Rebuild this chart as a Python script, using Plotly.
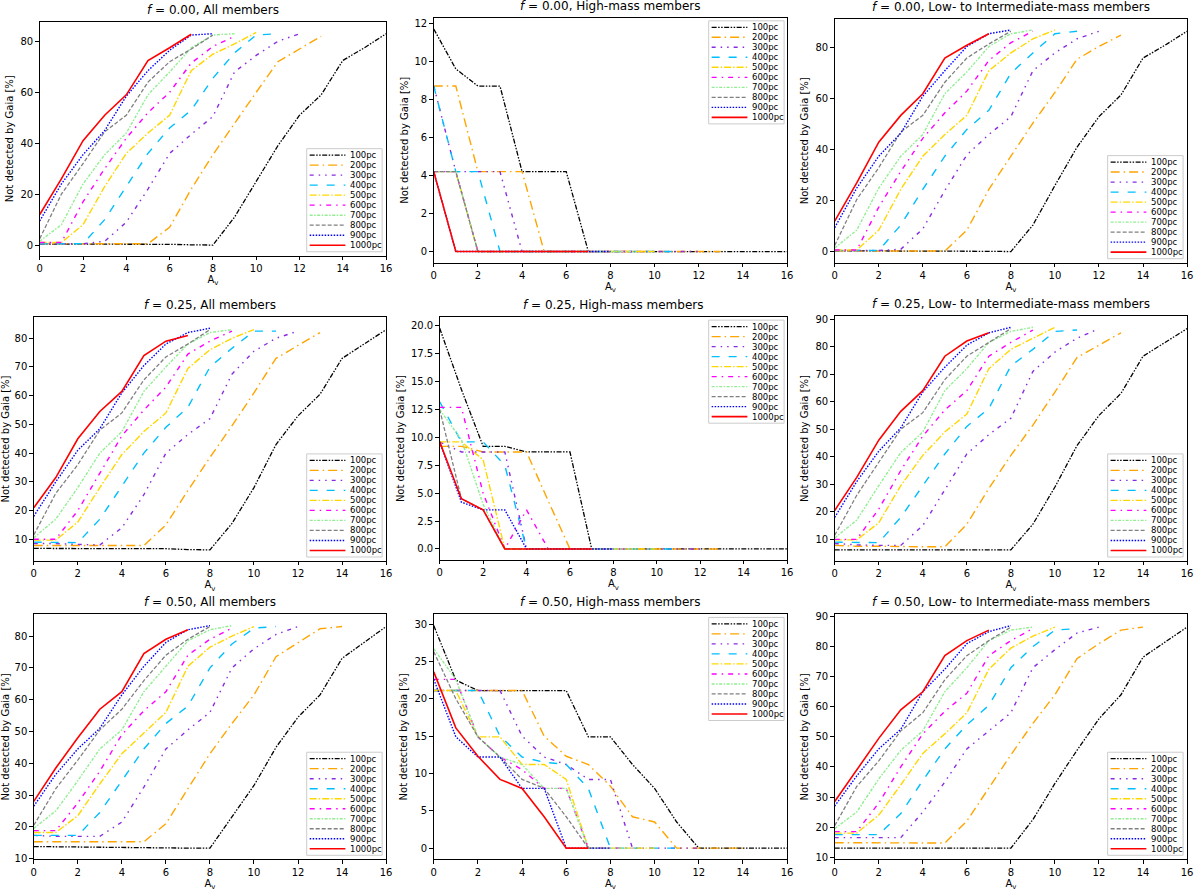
import plotly.graph_objects as go

W, H = 1200, 892

distances = ["100pc", "200pc", "300pc", "400pc", "500pc",
             "600pc", "700pc", "800pc", "900pc", "1000pc"]
colors = ["#000000", "#FFA500", "#8A2BE2", "#00BFFF", "#FFD700",
          "#FF00FF", "#90EE90", "#808080", "#0000FF", "#FF0000"]
dashes = ["5px,1.5px,1.5px,1.5px,1.5px,1.5px", "9px,4px,1.5px,4px",
          "4px,5px,1.5px,5px,1.5px,5px", "8px,9px", "7px,2px,1.5px,2px",
          "5px,5px,1.5px,5px", "3px,1.5px,1.5px,1.5px", "4px,2px",
          "1.5px,1.5px", "solid"]
widths = [1.3, 1.4, 1.4, 1.4, 1.4, 1.4, 1.4, 1.3, 1.4, 1.6]

fractions = ["0.00", "0.25", "0.50"]
samples = ["All members", "High-mass members", "Low- to Intermediate-mass members"]

# one list per distance, values at A_v = 0, 1, 2, ...
all_000 = [
    [0.4, 0.4, 0.4, 0.4, 0.4, 0.4, 0.3, 0.1, 0, 11, 25, 39, 51, 59, 72.5, 77.5, 83],
    [0.5, 0.5, 0.5, 0.5, 0.5, 0.5, 7, 22, 35.5, 48, 60, 72, 77, 82],
    [0.5, 0.5, 0.5, 1.5, 9, 22, 36, 43.5, 50.5, 68, 74.5, 80, 83],
    [0.5, 0.5, 0.5, 10, 23, 36, 46, 53, 65.5, 75.5, 82.5, 83],
    [1, 1, 8, 23, 36, 44, 51, 68.5, 75, 79, 83.5],
    [1, 1, 17, 30, 42, 52, 60, 71.5, 78, 82],
    [1.5, 8, 24, 35.5, 44, 59, 68, 77.5, 82.5, 83],
    [2.5, 20, 32, 44.5, 51, 64, 72, 77, 82.5],
    [9.5, 24, 35.5, 45, 58.5, 68.5, 76.5, 82.5, 83],
    [12, 26, 41, 51, 59, 72.5, 77.5, 82.8],
]
high_000 = [
    [11.7, 9.6, 8.7, 8.7, 4.2, 4.2, 4.2, 0, 0, 0, 0, 0, 0, 0, 0, 0, 0],
    [8.7, 8.7, 4.2, 4.2, 4.2, 0, 0, 0, 0, 0, 0, 0, 0, 0],
    [8.7, 4.2, 4.2, 4.2, 0, 0, 0, 0, 0, 0, 0, 0, 0],
    [8.7, 4.2, 4.2, 0, 0, 0, 0, 0, 0, 0, 0, 0],
    [4.2, 4.2, 0, 0, 0, 0, 0, 0, 0, 0, 0],
    [4.2, 4.2, 0, 0, 0, 0, 0, 0, 0, 0],
    [4.2, 4.2, 0, 0, 0, 0, 0, 0, 0, 0],
    [4.2, 4.2, 0, 0, 0, 0, 0, 0, 0],
    [4.2, 0, 0, 0, 0, 0, 0, 0, 0],
    [4.2, 0, 0, 0, 0, 0, 0, 0],
]
low_000 = [
    [0.4, 0.4, 0.4, 0.4, 0.4, 0.4, 0.3, 0.2, 0.1, 10.5, 26, 41, 53, 61.5, 76, 81, 86.5],
    [0.3, 0.3, 0.3, 0.3, 0.3, 0.3, 8.5, 24.5, 37.5, 50.5, 62.5, 75.5, 80.5, 85],
    [0.5, 0.5, 0.5, 1, 9, 24, 38, 46, 53, 71, 78, 83.5, 86.5],
    [0.5, 0.5, 0.5, 10.5, 24.5, 37.5, 48, 55.5, 70, 78, 85.5, 86.5],
    [0.7, 0.7, 8.5, 24.5, 37.5, 46, 53.5, 71, 78, 83.5, 87],
    [0.7, 0.7, 17.5, 31.5, 44.5, 54.5, 63, 75, 82, 86.5],
    [1.5, 8.5, 25, 37.5, 46, 62, 70.5, 80.5, 85.5, 87],
    [2.5, 20.5, 33, 47, 53.5, 66.5, 76, 81.5, 86.5],
    [9.5, 25, 37.5, 46.5, 61, 71, 80.5, 85.5, 87],
    [12, 27, 43, 53.5, 62, 76, 81, 85.5],
]
all_025 = [
    [6.8, 6.8, 6.8, 6.8, 6.8, 6.7, 6.7, 6.4, 6.3, 15.5, 28, 43, 53, 60.5, 73, 78, 83],
    [7.8, 7.8, 7.8, 7.8, 7.8, 7.8, 15, 27, 38.5, 49.5, 61, 73, 77.5, 82],
    [8.5, 8.5, 8.2, 8, 14, 25.5, 40, 46.5, 52, 67.5, 75.5, 80, 82.5],
    [9, 9, 8.8, 17, 28.5, 40, 49, 56, 70, 76.5, 82.5, 82.5],
    [9.7, 9.7, 16, 28, 39.5, 47.5, 54, 69.5, 76, 80, 83],
    [10, 10, 20, 33, 46, 55, 63, 74.5, 79, 82.5],
    [10.5, 17, 28, 40, 47.5, 61.5, 70, 78, 82, 83],
    [11.5, 26, 36, 48, 54, 65.5, 73.5, 78, 83],
    [18, 30, 41, 48.5, 61, 70.5, 78, 82, 83.5],
    [21, 31.5, 45, 54.5, 61.5, 74, 79, 81],
]
high_025 = [
    [19.8, 14.3, 9.2, 9.2, 8.7, 8.7, 8.7, 0, 0, 0, 0, 0, 0, 0, 0, 0, 0],
    [9.2, 9.2, 8.7, 8.7, 8.7, 4.3, 0, 0, 0, 0, 0, 0, 0, 0],
    [9.6, 8.7, 8.7, 8.7, 0, 0, 0, 0, 0, 0, 0, 0, 0],
    [13.2, 9.6, 9.6, 7.5, 0, 0, 0, 0, 0, 0, 0, 0],
    [9.6, 9.6, 8.0, 0, 0, 0, 0, 0, 0, 0, 0],
    [12.7, 12.7, 5.0, 0, 3.5, 0, 0, 0, 0, 0],
    [12.5, 9.8, 4.0, 0, 0, 0, 0, 0, 0, 0],
    [12.5, 4.5, 3.5, 0, 0, 0, 0, 0, 0],
    [9.6, 4.2, 3.5, 3.5, 0, 0, 0, 0, 0],
    [9.6, 4.5, 3.5, 0, 0, 0, 0, 0],
]
low_025 = [
    [6.2, 6.2, 6.2, 6.2, 6.2, 6.2, 6.2, 6.2, 6.2, 15.5, 29, 44, 55, 63, 76.5, 81.5, 86.5],
    [7.8, 7.5, 7.5, 7.3, 7.3, 7.3, 15.5, 28.5, 40.5, 51.5, 63.5, 76, 80.5, 85],
    [8.5, 8, 7.8, 7.8, 15, 28, 41, 48, 54, 71, 78, 83, 86.5],
    [9, 8.8, 8.8, 18, 29.5, 41, 51, 57.5, 73, 79, 85.5, 86],
    [9.8, 9.8, 16, 29.5, 40.5, 49, 55.5, 72, 79, 83, 87],
    [10, 10, 21, 35, 47.5, 57, 64, 76.5, 81.5, 86],
    [10.5, 17, 29.5, 41.5, 49, 64, 72, 81.5, 85.5, 87],
    [11.5, 26, 38, 50, 56, 68, 76.5, 81.5, 86.5],
    [18, 31, 42, 50.5, 63.5, 72.5, 80.5, 85, 87],
    [20.5, 32.5, 46, 56.5, 64, 76.5, 82, 85],
]
all_050 = [
    [13.8, 13.7, 13.6, 13.5, 13.5, 13.5, 13.4, 13.3, 13.3, 23, 33, 45, 54.5, 61.5, 73, 78, 83],
    [15.3, 15.3, 15.3, 15.3, 15.3, 15.3, 21, 32, 43, 52.5, 61.5, 73.5, 78, 82.3, 83],
    [17.3, 17, 17, 17, 21.5, 32.5, 44.5, 50.5, 56, 70, 76, 80.5, 83],
    [17.3, 17.3, 17.3, 24.5, 34.5, 44.5, 52.5, 58, 70, 77.5, 82.5, 83],
    [18.2, 18.2, 23.5, 33.5, 43, 49.5, 56, 70.5, 76.5, 80, 83],
    [18.8, 18.8, 27.5, 37.5, 49, 56.5, 62.5, 74, 79, 82.5],
    [19.5, 25, 34.5, 44.5, 50.5, 62.5, 70.5, 78.5, 82, 83.3],
    [20.5, 32, 41, 50.5, 57, 66, 74, 79, 83],
    [26.5, 36.5, 44.5, 51, 61.5, 70.5, 78, 82, 83.3],
    [28, 38.5, 48, 57, 62.5, 74.5, 79, 82],
]
high_050 = [
    [29.8, 22.5, 21.1, 21.1, 21.1, 21.1, 21.1, 14.9, 14.9, 11.2, 8.0, 3.5, 0, 0, 0, 0, 0],
    [21.1, 21.1, 21.1, 21.1, 21.1, 15.0, 12.3, 11.2, 8.3, 4.2, 3.5, 0, 0, 0, 0],
    [21.1, 21.1, 21.1, 21.1, 15.0, 12.2, 11.2, 9.2, 9.2, 0, 0, 0, 0],
    [21.1, 21.1, 21.1, 15.0, 12.2, 11.5, 11.2, 8.0, 0, 0, 0, 0],
    [21.1, 21.1, 14.9, 14.9, 11.2, 11.2, 9.2, 0, 0, 0, 0],
    [22.6, 22.6, 14.9, 12.2, 10.5, 8.0, 8.0, 0, 0, 0],
    [26.7, 22.6, 14.9, 12.2, 11.2, 8.0, 8.0, 0, 0, 0],
    [26.3, 20.0, 14.9, 12.2, 9.2, 8.0, 4.2, 0, 0],
    [22.6, 14.9, 12.2, 12.2, 8.0, 8.0, 0, 0, 0],
    [23.6, 16.1, 12.3, 9.2, 8.0, 4.2, 0, 0],
]
low_050 = [
    [13, 13.1, 13, 13, 13, 13, 13, 13, 13, 22.5, 34.5, 45.5, 56, 64, 76.5, 81.5, 86.5],
    [14.8, 14.8, 14.8, 14.8, 14.7, 14.7, 22, 33, 44, 54.5, 64, 76, 81, 85.5, 86.5],
    [16.5, 16.5, 16.5, 16.5, 25, 35, 46, 52, 58, 73, 79, 84.5, 86.5],
    [17.5, 17.5, 17.5, 24.5, 35.5, 46, 54, 60.5, 73, 80, 85.5, 86],
    [18, 18, 24, 34, 44.5, 51, 58, 72.5, 79.5, 83.5, 86.5],
    [18.5, 18.5, 28, 40, 51, 58.5, 64.5, 77, 82, 86],
    [19.5, 25, 36, 45.5, 52, 65, 73, 82, 85.5, 86.5],
    [20.5, 33.5, 42, 52, 58, 69, 77, 82, 86.5],
    [27, 37, 46, 52.5, 65, 72.5, 81, 85, 87],
    [28.5, 39, 49.5, 59, 65, 77, 82, 85.5],
]

panels = [[all_000, high_000, low_000],
          [all_025, high_025, low_025],
          [all_050, high_050, low_050]]
y_dtick = [[20, 2, 20], [10, 2.5, 10], [10, 5, 10]]

# panel plot areas in pixels: left, top, right, bottom
boxes = [[(37, 19, 386, 255), (434, 15, 790, 262), (838, 16, 1193, 262)],
         [(31, 317, 386, 563), (440, 317, 790, 562), (838, 316, 1193, 563)],
         [(31, 617, 386, 864), (434, 617, 790, 864), (838, 617, 1193, 864)]]

font = "DejaVu Sans"
fig = go.Figure()
annotations = []
shapes = []


def px(x):
    return x / W


def py(y):
    return 1 - y / H


def add_legend(l, t, r, b, top):
    bw, bh = 76, 104
    if top:
        x0, y0 = r - 3, t + 3
    else:
        x0, y0 = r - 4, b - 4 - bh
    x0 = x0 - bw
    shapes.append(dict(type="rect", xref="paper", yref="paper",
                       x0=px(x0), x1=px(x0 + bw), y0=py(y0), y1=py(y0 + bh),
                       line=dict(color="#cccccc", width=1),
                       fillcolor="rgba(255,255,255,0.85)", layer="above"))
    for i, name in enumerate(distances):
        yy = y0 + 6.5 + i * 10.1
        shapes.append(dict(type="line", xref="paper", yref="paper",
                           x0=px(x0 + 3), x1=px(x0 + 39), y0=py(yy), y1=py(yy),
                           line=dict(color=colors[i], width=widths[i], dash=dashes[i]),
                           layer="above"))
        annotations.append(dict(x=px(x0 + 43), y=py(yy), xref="paper", yref="paper",
                                text=name, showarrow=False, xanchor="left",
                                yanchor="middle", borderpad=0,
                                font=dict(family=font, size=8.5, color="black")))


k = 0
for row in range(3):
    for col in range(3):
        k += 1
        data = panels[row][col]
        xa = "x" if k == 1 else f"x{k}"
        ya = "y" if k == 1 else f"y{k}"
        for i, ys in enumerate(data):
            fig.add_trace(go.Scatter(
                x=list(range(len(ys))), y=ys, mode="lines", name=distances[i],
                line=dict(color=colors[i], width=widths[i], dash=dashes[i]),
                xaxis=xa, yaxis=ya, showlegend=False))
        lo = min(min(s) for s in data)
        hi = max(max(s) for s in data)
        pad = 0.05 * (hi - lo)
        l, t, r, b = boxes[row][col]
        common = dict(showline=True, linecolor="black", linewidth=1, mirror=True,
                      ticks="outside", ticklen=3.5, tickcolor="black",
                      showgrid=False, zeroline=False,
                      tickfont=dict(family=font, size=10, color="black"))
        fig.layout[f"xaxis{'' if k == 1 else k}"] = dict(
            domain=[px(l), px(r)], anchor=ya, range=[0, 16], dtick=2,
            title=dict(text="A<sub>v</sub>", font=dict(family=font, size=10, color="black"),
                       standoff=2),
            **common)
        fig.layout[f"yaxis{'' if k == 1 else k}"] = dict(
            domain=[py(b), py(t)], anchor=xa, range=[lo - pad, hi + pad],
            dtick=y_dtick[row][col], tickformat=".1f" if col == 1 and row == 1 else "",
            title=dict(text="Not detected by Gaia [%]",
                       font=dict(family=font, size=10, color="black"), standoff=4),
            **common)
        annotations.append(dict(
            x=px((l + r) / 2), y=py(t), xref="paper", yref="paper", yshift=3,
            text=f"<i>f</i> = {fractions[row]}, {samples[col]}", showarrow=False,
            xanchor="center", yanchor="bottom",
            font=dict(family=font, size=12, color="black")))
        add_legend(l, t, r, b, col == 1)

fig.update_layout(width=W, height=H, margin=dict(l=0, r=0, t=0, b=0),
                  plot_bgcolor="white", paper_bgcolor="white",
                  annotations=annotations, shapes=shapes,
                  font=dict(family=font, size=10, color="black"))

fig.write_html("out.html", config={"displayModeBar": False},
               post_script="document.body.style.margin='0';"
                           "document.body.style.overflow='hidden';")
